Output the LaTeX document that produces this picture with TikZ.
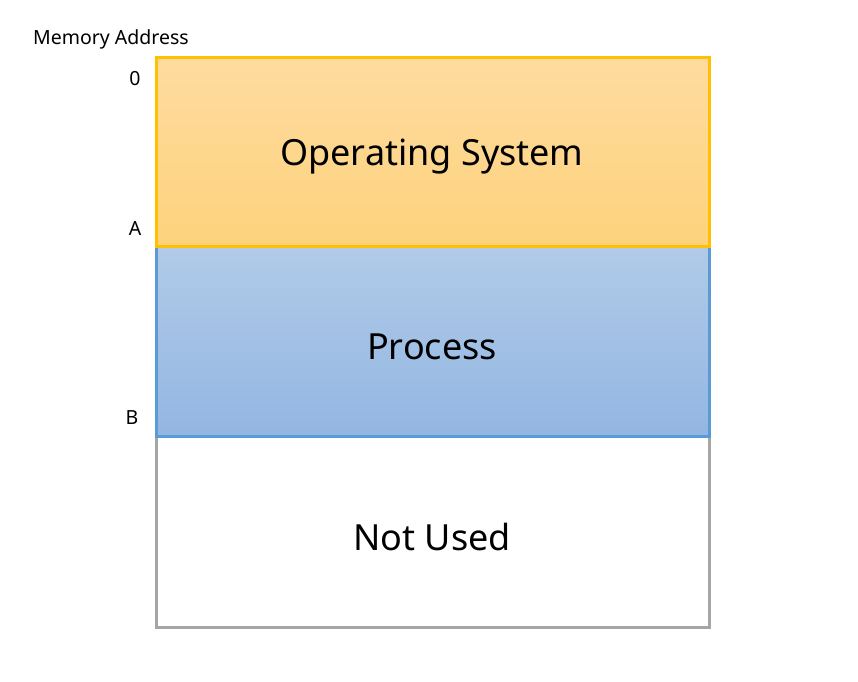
\documentclass[tikz,border=0pt]{standalone}
\usepackage{fontspec}
\setmainfont{Noto Sans}
\definecolor{osTop}{HTML}{FEDCA0}
\definecolor{osBot}{HTML}{FED27C}
\definecolor{osLine}{HTML}{FFC000}
\definecolor{prTop}{HTML}{B1CBE8}
\definecolor{prBot}{HTML}{93B6E2}
\definecolor{prLine}{HTML}{5B9BD5}
\definecolor{nuLine}{HTML}{A5A5A5}
\begin{document}
\begin{tikzpicture}[x=1pt,y=-1pt,
  blk/.style={line width=3pt},
  big/.style={font=\fontsize{36}{40}\selectfont},
  small/.style={font=\fontsize{19.5}{22}\selectfont}]
\useasboundingbox (0,0) rectangle (858,681);
\shade[top color=osTop,bottom color=osBot] (156,57) rectangle (709,246);
\shade[top color=prTop,bottom color=prBot] (156,246) rectangle (709,436);
\draw[blk,nuLine] (156,436) rectangle (709,627);
\draw[blk,prLine] (156,246) rectangle (709,436);
\draw[blk,osLine] (156,57) rectangle (709,246);
\node[big] (os) at (432,157) {Operating System};
\node[big] (pr) at (432,347) {Process};
\node[big] (nu) at (432,537) {Not Used};
\node[small] (ma) at (111,39) {Memory Address};
\node[small] (l0) at (135,79) {0};
\node[small] (la) at (135,229) {A};
\node[small] (lb) at (132,418) {B};
\end{tikzpicture}
\end{document}
